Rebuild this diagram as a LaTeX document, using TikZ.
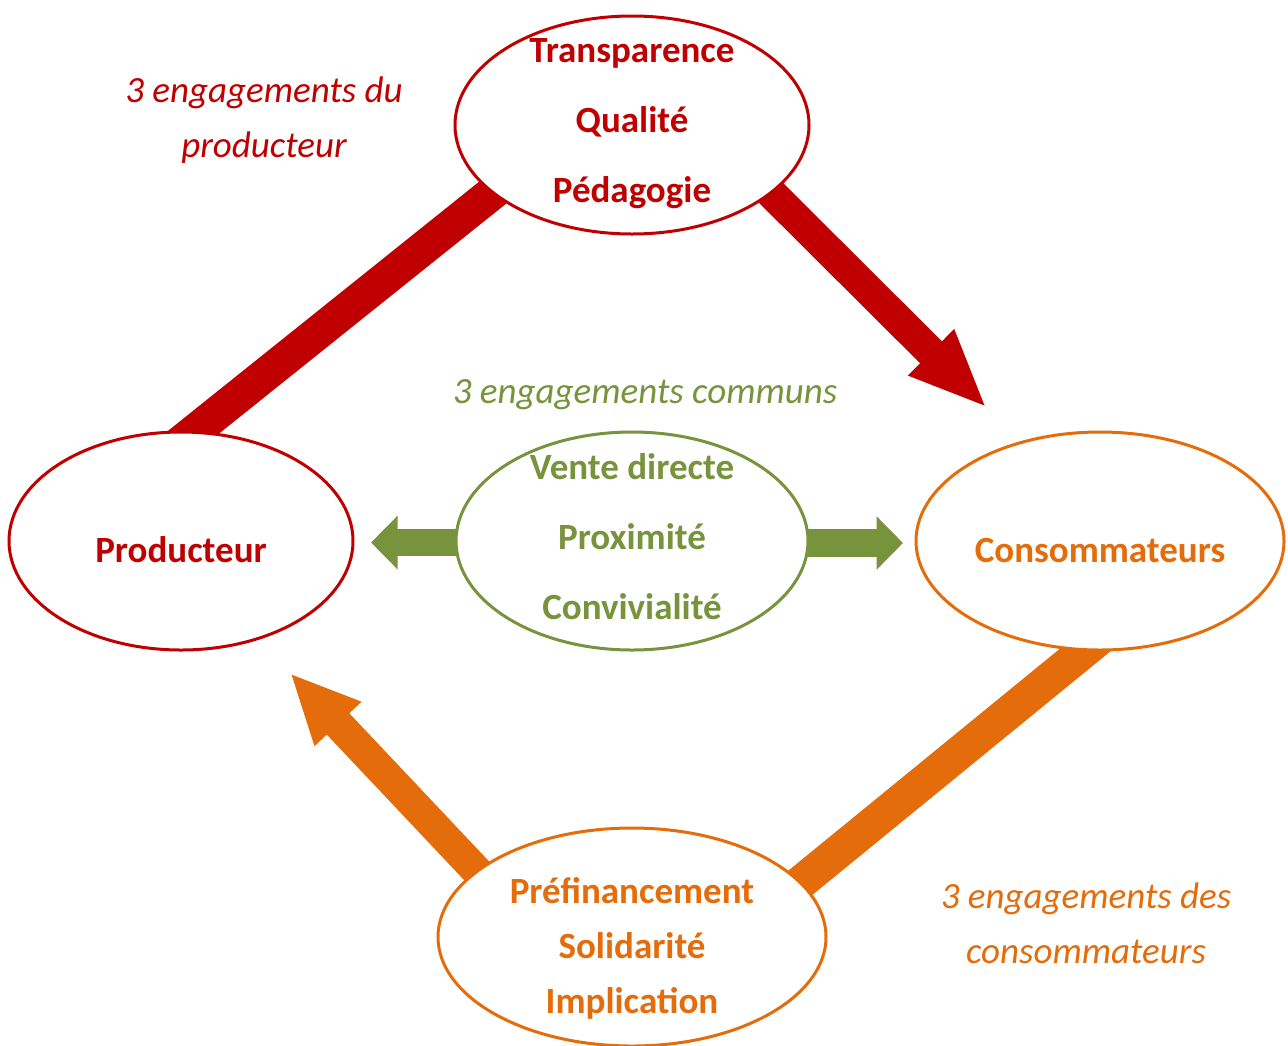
\documentclass[tikz,border=0pt]{standalone}
\usepackage{fontspec}
\setmainfont{Carlito}
\usetikzlibrary{shapes.geometric,arrows.meta}
\definecolor{cred}{HTML}{C00000}
\definecolor{corange}{HTML}{E46C0A}
\definecolor{cgreen}{HTML}{77933C}
\pgfdeclarelayer{bg}
\pgfsetlayers{bg,main}
\begin{document}
\begin{tikzpicture}[x=0.5pt,y=-0.5pt,
  ell/.style={ellipse,draw=#1,line width=1.5pt,fill=white,inner sep=0pt,minimum height=109pt},
  big/.style={font=\fontsize{18.5pt}{35pt}\selectfont\bfseries,align=center,inner sep=0pt},
  bigb/.style={font=\fontsize{18.5pt}{27.5pt}\selectfont\bfseries,align=center,inner sep=0pt},
  lab/.style={font=\fontsize{18.5pt}{27.5pt}\selectfont\itshape,align=center,inner sep=0pt},
  band/.style={line width=17pt,draw=#1},
  blockarrow/.style={line width=15.5pt,draw=#1,fill=#1},
  greenarrow/.style={line width=13.75pt,draw=cgreen,fill=cgreen,-{Triangle[length=13.25pt,width=26pt]}}
]
\useasboundingbox (0,0) rectangle (1288,1045);

% ellipses
\node[ell=cred,minimum width=177pt] (top) at (632,125) {};
\node[ell=cred,minimum width=172pt] (prod) at (181,541) {};
\node[ell=corange,minimum width=184pt] (cons) at (1100,541) {};
\node[ell=cgreen,minimum width=176pt] (mid) at (632,541) {};
\node[ell=corange,minimum width=194pt] (bot) at (632,937) {};

% texts
\node[big,text=cred] (topT) at (632,124) {Transparence\\Qualité\\Pédagogie};
\node[big,text=cred] (prodT) at (181,550) {Producteur};
\node[big,text=corange] (consT) at (1100,550) {Consommateurs};
\node[big,text=cgreen] (midT) at (632,537) {Vente directe\\Proximité\\Convivialité};
\node[bigb,text=corange] (botT) at (632,948) {Préfinancement\\Solidarité\\Implication};

\node[lab,text=cred] (labP) at (264,120) {3 engagements du\\producteur};
\node[lab,text=cgreen] (labM) at (645,395) {3 engagements communs};
\node[lab,text=corange] (labC) at (1086,923) {3 engagements des\\consommateurs};

% connector end points
\coordinate (rb1) at (171.6,449.75);
\coordinate (rb2) at (514.4,175.25);
\coordinate (ra1) at (753,175);
\coordinate (ra2) at (987,408);
\coordinate (ob1) at (1106,633);
\coordinate (ob2) at (778,901);
\coordinate (oa1) at (491,886);
\coordinate (oa2) at (290,673);
\coordinate (gl1) at (485,542.5);
\coordinate (gl2) at (371,542.5);
\coordinate (gr1) at (780,543);
\coordinate (gr2) at (903,543);

\begin{pgfonlayer}{bg}
\draw[band=cred] (rb1) -- (rb2);
\draw[blockarrow=cred,-{Triangle[length=39.5pt,width=29.5pt]}] (ra1) -- (ra2);
\draw[band=corange] (ob1) -- (ob2);
\draw[blockarrow=corange,-{Triangle[length=35pt,width=29.5pt]}] (oa1) -- (oa2);
\draw[greenarrow] (gl1) -- (gl2);
\draw[greenarrow] (gr1) -- (gr2);
\end{pgfonlayer}
\end{tikzpicture}
\end{document}
